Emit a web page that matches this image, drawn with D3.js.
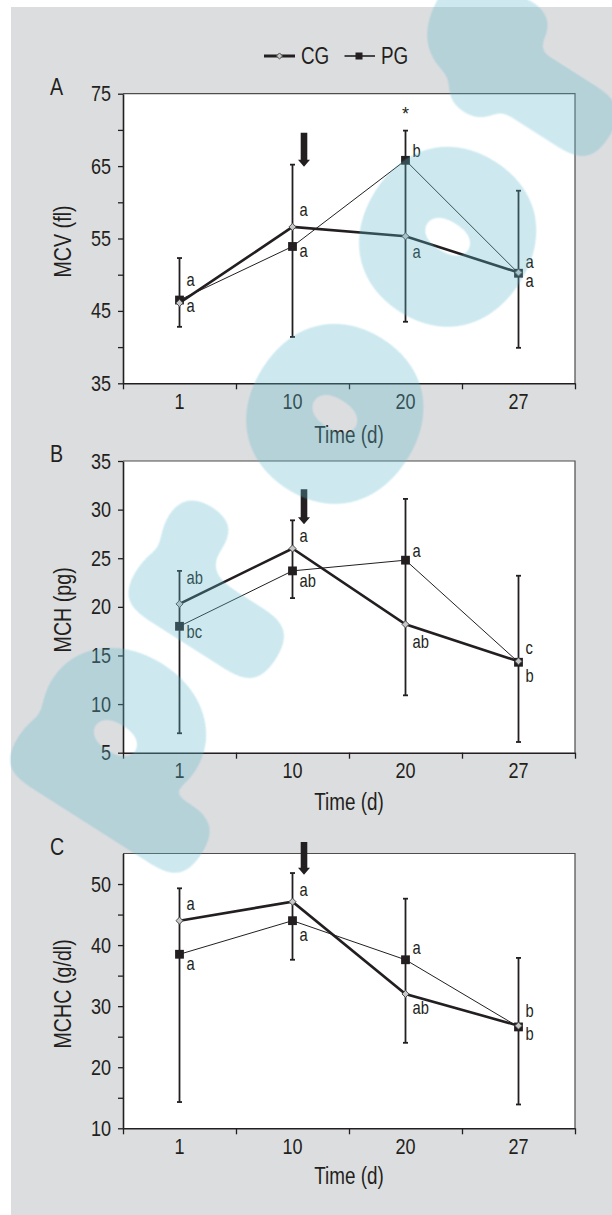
<!DOCTYPE html>
<html>
<head>
<meta charset="utf-8">
<script src="https://cdn.jsdelivr.net/npm/d3@7"></script>
<style>
  body { margin: 0; background: #fff; }
  svg { display: block; }
  text { font-family: "Liberation Sans", Arial, sans-serif; fill: #231f20; }
</style>
</head>
<body>
<div id="chart"></div>
<script>
// time points (days)
const days = ["1", "10", "20", "27"];

// A - MCV (fl)
const mcvCG = [46.1, 56.6, 55.3, 50.3];
const mcvPG = [46.5, 53.9, 65.8, 50.2];
const mcvHi = [52.3, 65.2, 69.9, 61.6];
const mcvLo = [42.8, 41.4, 43.5, 39.9];
const mcvTicks = [35, 45, 55, 65, 75];
const mcvMinor = [40, 50, 60, 70];
const mcvLetters = [["a", "a"], ["a", "a"], ["b", "a"], ["a", "a"]];
const mcvLetterY = [[49.1, 45.6], [58.8, 53.2], [67.0, 53.0], [51.6, 49.0]];

// B - MCH (pg)
const mchCG = [20.3, 26.0, 18.2, 14.4];
const mchPG = [18.0, 23.7, 24.8, 14.3];
const mchHi = [23.7, 28.9, 31.1, 23.2];
const mchLo = [7.0, 20.9, 10.9, 6.1];
const mchTicks = [5, 10, 15, 20, 25, 30, 35];
const mchMinor = [];
const mchLetters = [["ab", "bc"], ["a", "ab"], ["a", "ab"], ["c", "b"]];
const mchLetterY = [[22.9, 17.3], [27.2, 22.6], [25.6, 16.3], [15.7, 12.8]];

// C - MCHC (g/dl)
const mchcCG = [44.0, 47.1, 32.0, 26.8];
const mchcPG = [38.5, 44.0, 37.6, 26.6];
const mchcHi = [49.3, 51.8, 47.6, 37.9];
const mchcLo = [14.3, 37.6, 24.0, 13.9];
const mchcTicks = [10, 20, 30, 40, 50];
const mchcMinor = [15, 25, 35, 45];
const mchcLetters = [["a", "a"], ["a", "a"], ["a", "ab"], ["b", "b"]];
const mchcLetterY = [[46.6, 36.7], [48.9, 41.5], [39.4, 29.5], [29.1, 25.3]];

const W = 612, H = 1215;
const INK = "#231f20";
const NARROW = 0.82;   // squeeze Liberation Sans to look like the narrow face

const svg = d3.select("#chart").append("svg")
    .attr("width", W)
    .attr("height", H);

// grey page behind the figure
svg.append("rect")
    .attr("x", 11).attr("y", 7)
    .attr("width", W - 11).attr("height", H - 7)
    .attr("fill", "#dcdddf");

const x = d3.scaleBand().domain(days).range([123, 575]);
const xEdge = d3.scaleLinear().domain([0, days.length]).range(x.range());

function narrowText(sel, size) {
    sel.style("font-size", size + "px")
        .attr("transform", function() {
            const tx = +this.getAttribute("x") || 0;
            return "translate(" + tx + ",0) scale(" + NARROW + ",1)";
        })
        .attr("x", 0);
}

function drawPanel(p) {
    const y = d3.scaleLinear().domain(p.domain).range([p.bottom, p.top]);
    const g = svg.append("g");

    // plot area
    g.append("rect")
        .attr("x", x.range()[0]).attr("y", p.top)
        .attr("width", x.range()[1] - x.range()[0]).attr("height", p.bottom - p.top)
        .attr("fill", "#fff");
    g.append("path")
        .attr("d", "M" + x.range()[0] + "," + p.top + "H" + x.range()[1] + "V" + p.bottom)
        .attr("fill", "none").attr("stroke", "#4d4d4d").attr("stroke-width", 1.2);

    // y axis
    const yAx = g.append("g")
        .attr("transform", "translate(" + x.range()[0] + ",0)")
        .call(d3.axisLeft(y).tickValues(p.ticks).tickSize(5).tickPadding(7).tickSizeOuter(0));
    g.append("g")
        .attr("transform", "translate(" + x.range()[0] + ",0)")
        .call(d3.axisLeft(y).tickValues(p.minor).tickSize(5).tickFormat("").tickSizeOuter(0))
        .call(s => s.select(".domain").remove());
    yAx.selectAll("text").call(narrowText, 22).attr("fill", INK);

    // x axis: labels centred in bands, ticks on band edges
    const xAx = g.append("g")
        .attr("transform", "translate(0," + p.bottom + ")")
        .call(d3.axisBottom(x).tickSize(0).tickPadding(10).tickSizeOuter(0));
    xAx.selectAll("text").call(narrowText, 22).attr("fill", INK);
    g.append("g")
        .attr("transform", "translate(0," + p.bottom + ")")
        .call(d3.axisBottom(xEdge).tickValues(d3.range(days.length + 1)).tickSize(6).tickFormat("").tickSizeOuter(0))
        .call(s => s.select(".domain").remove());

    g.selectAll(".domain").attr("stroke", INK).attr("stroke-width", 1.6);
    g.selectAll(".tick line").attr("stroke", INK).attr("stroke-width", 1.3);

    // titles
    g.append("text")
        .attr("transform", "translate(" + (x.range()[0] + x.range()[1]) / 2 + "," + (p.bottom + p.timeGap) + ") scale(" + NARROW + ",1)")
        .attr("text-anchor", "middle").style("font-size", "23px")
        .text("Time (d)");
    g.append("text")
        .attr("transform", "translate(71," + ((p.top + p.bottom) / 2 + 3) + ") rotate(-90) scale(" + NARROW + ",1)")
        .attr("text-anchor", "middle").style("font-size", "24px")
        .text(p.title);
    g.append("text")
        .attr("transform", "translate(50," + (p.top + 1) + ") scale(" + NARROW + ",1)")
        .style("font-size", "24px")
        .text(p.letter);

    const cx = d => x(d) + x.bandwidth() / 2;

    // error bars
    const bars = g.append("g").attr("stroke", INK).attr("stroke-width", 1.8);
    days.forEach((d, i) => {
        bars.append("line").attr("x1", cx(d)).attr("x2", cx(d))
            .attr("y1", y(p.hi[i])).attr("y2", y(p.lo[i]));
        [p.hi[i], p.lo[i]].forEach(v => {
            bars.append("line").attr("x1", cx(d) - 2.5).attr("x2", cx(d) + 2.5)
                .attr("y1", y(v)).attr("y2", y(v));
        });
    });

    // lines
    const line = d3.line().x((v, i) => cx(days[i])).y(v => y(v));
    g.append("path").datum(p.pg).attr("d", line)
        .attr("fill", "none").attr("stroke", INK).attr("stroke-width", 1);
    g.append("path").datum(p.cg).attr("d", line)
        .attr("fill", "none").attr("stroke", INK).attr("stroke-width", 2.6);

    // markers
    g.selectAll(".sq").data(p.pg).join("rect")
        .attr("x", (v, i) => cx(days[i]) - 4.4).attr("y", v => y(v) - 4.4)
        .attr("width", 8.8).attr("height", 8.8)
        .attr("fill", INK);
    g.selectAll(".dm").data(p.cg).join("path")
        .attr("d", d3.symbol(d3.symbolDiamond2, 32))
        .attr("transform", (v, i) => "translate(" + cx(days[i]) + "," + y(v) + ")")
        .attr("fill", "#c8c8c8").attr("stroke", "#4d4d4d").attr("stroke-width", 1);

    // significance letters
    days.forEach((d, i) => {
        p.letters[i].forEach((t, j) => {
            g.append("text")
                .attr("transform", "translate(" + (cx(d) + 7) + "," + (y(p.letterY[i][j]) + 5) + ") scale(" + NARROW + ",1)")
                .style("font-size", "18px")
                .text(t);
        });
    });

    // arrow marking the treatment
    const ax = cx("10") + 11.5;
    const yTop = y(p.arrow[0]), yTip = y(p.arrow[1]);
    g.append("path")
        .attr("d", "M" + (ax - 3.3) + "," + yTop + "V" + (yTip - 7) + "H" + (ax - 6) +
            "L" + ax + "," + yTip + "L" + (ax + 6) + "," + (yTip - 7) + "H" + (ax + 3.3) + "V" + yTop + "Z")
        .attr("fill", INK);

    if (p.star) {
        g.append("text")
            .attr("x", cx(p.star[0])).attr("y", y(p.star[1]) + 10)
            .attr("text-anchor", "middle").style("font-size", "18px")
            .text("*");
    }
}

drawPanel({ letter: "A", title: "MCV (fl)", top: 93.7, bottom: 383.3, domain: [35, 75], timeGap: 60,
    ticks: mcvTicks, minor: mcvMinor, cg: mcvCG, pg: mcvPG, hi: mcvHi, lo: mcvLo,
    letters: mcvLetters, letterY: mcvLetterY, arrow: [69.6, 64.9], star: ["20", 72.7] });
drawPanel({ letter: "B", title: "MCH (pg)", top: 461, bottom: 752.7, domain: [5, 35], timeGap: 57,
    ticks: mchTicks, minor: mchMinor, cg: mchCG, pg: mchPG, hi: mchHi, lo: mchLo,
    letters: mchLetters, letterY: mchLetterY, arrow: [32.1, 28.5] });
drawPanel({ letter: "C", title: "MCHC (g/dl)", top: 853.5, bottom: 1128.3, domain: [10, 55], timeGap: 56,
    ticks: mchcTicks, minor: mchcMinor, cg: mchcCG, pg: mchcPG, hi: mchcHi, lo: mchcLo,
    letters: mchcLetters, letterY: mchcLetterY, arrow: [56.9, 51.5] });

// legend
const legend = svg.append("g").attr("transform", "translate(0,56)");
legend.append("line").attr("x1", 264).attr("x2", 295).attr("stroke", INK).attr("stroke-width", 3);
legend.append("path").attr("d", d3.symbol(d3.symbolDiamond2, 24))
    .attr("transform", "translate(279.5,0)")
    .attr("fill", "#c8c8c8").attr("stroke", "#4d4d4d");
legend.append("text").attr("transform", "translate(301,7.5) scale(" + NARROW + ",1)")
    .style("font-size", "23px").text("CG");
legend.append("line").attr("x1", 344.5).attr("x2", 375).attr("stroke", INK).attr("stroke-width", 1.6);
legend.append("rect").attr("x", 355.5).attr("y", -3.5).attr("width", 7).attr("height", 7).attr("fill", INK);
legend.append("text").attr("transform", "translate(381,7.5) scale(" + NARROW + ",1)")
    .style("font-size", "23px").text("PG");

// "proof" watermark laid over the whole page, fattened with a rounded blur/threshold
const defs = svg.append("defs");
const fat = defs.append("filter").attr("id", "fat")
    .attr("x", "-15%").attr("y", "-30%").attr("width", "130%").attr("height", "160%");
fat.append("feGaussianBlur").attr("in", "SourceAlpha").attr("stdDeviation", 11).attr("result", "blur");
fat.append("feComponentTransfer").attr("in", "blur").attr("result", "mask")
    .append("feFuncA").attr("type", "linear").attr("slope", 30).attr("intercept", -2.5);
fat.append("feFlood").attr("flood-color", "#61bbce").attr("result", "tint");
fat.append("feComposite").attr("in", "tint").attr("in2", "mask").attr("operator", "in");

const wm = svg.append("g")
    .attr("transform", "rotate(-57.5)")
    .attr("opacity", 0.31);
wm.append("text")
    .attr("x", [-655, -450.7, -255.8, -45.8, 163].join(" "))
    .attr("y", [563, 573, 573, 573, 573].join(" "))
    .attr("filter", "url(#fat)")
    .style("font-family", "'DejaVu Sans'")
    .style("font-weight", "bold")
    .style("font-size", "252px")
    .attr("fill", "#61bbce")
    .text("proof");
</script>
</body>
</html>
